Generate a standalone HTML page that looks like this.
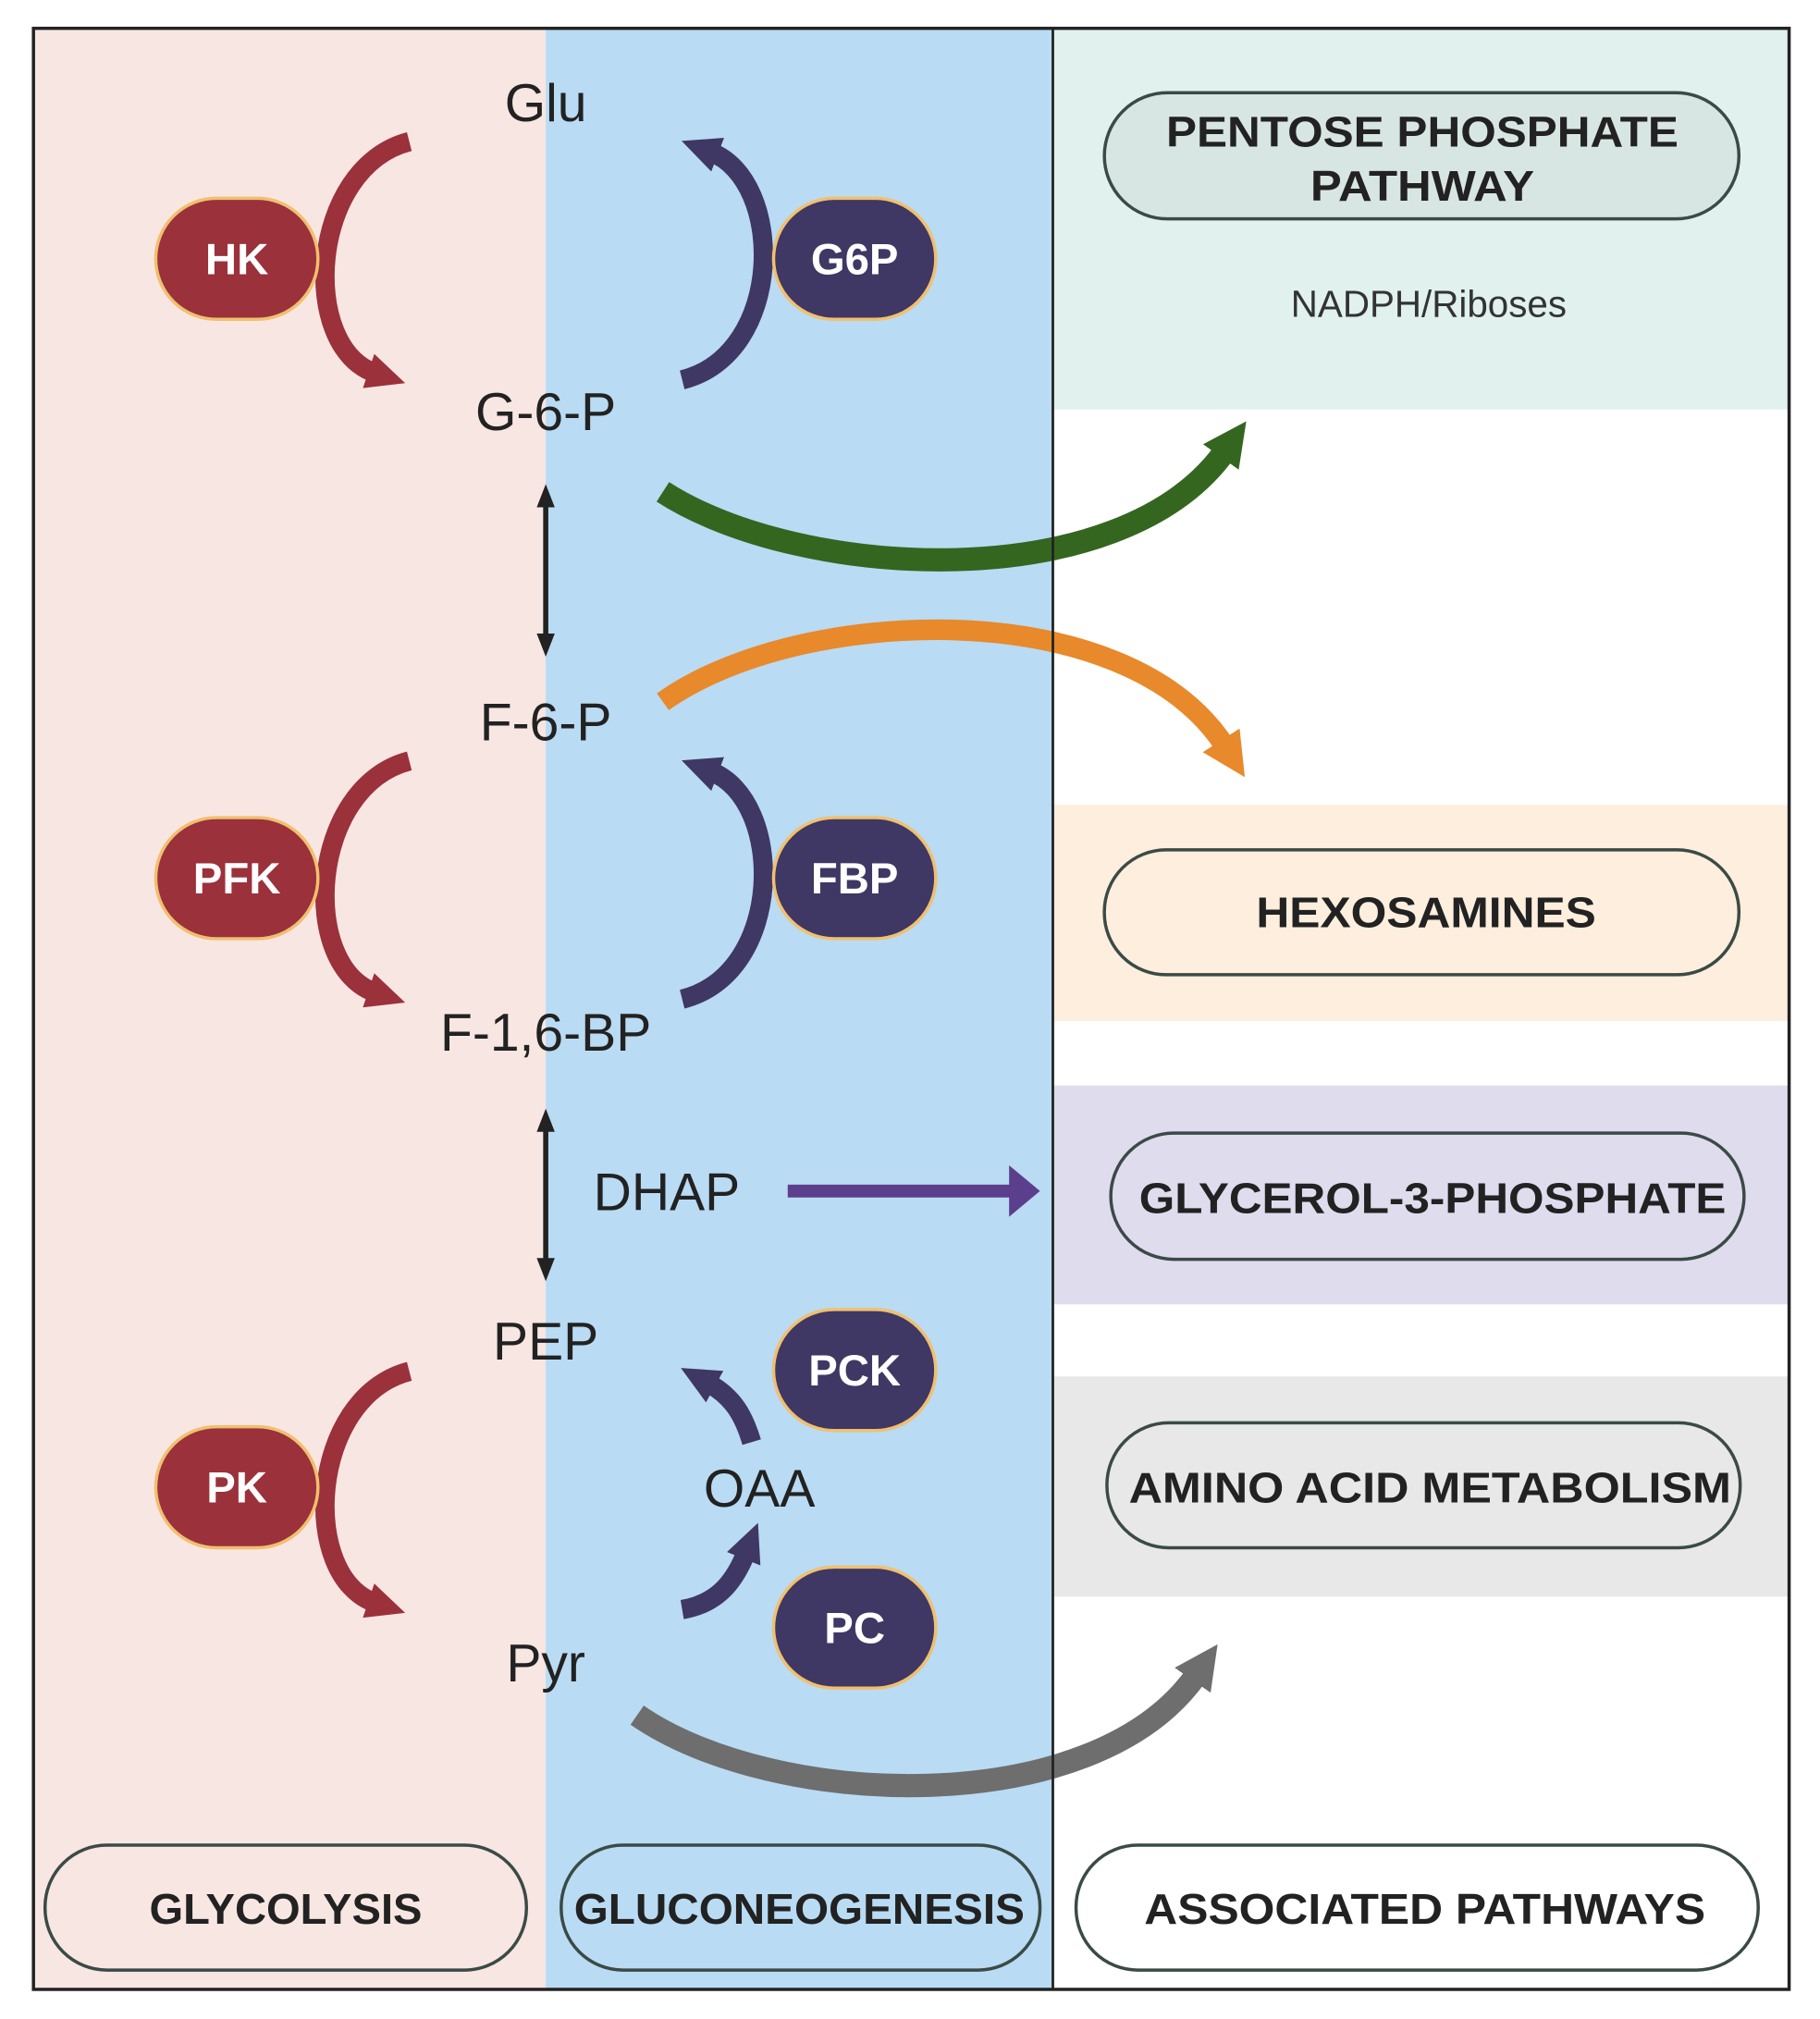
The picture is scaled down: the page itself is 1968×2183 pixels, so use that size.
<!DOCTYPE html>
<html><head><meta charset="utf-8"><style>
html,body{margin:0;padding:0;background:#fff}
svg{display:block}
text{font-family:"Liberation Sans",sans-serif}
</style></head><body>
<svg width="1968" height="2183" viewBox="0 0 1414 1568" preserveAspectRatio="none" xmlns="http://www.w3.org/2000/svg">
<defs>
<marker id="mr" markerUnits="userSpaceOnUse" markerWidth="34" markerHeight="34" refX="6" refY="17" orient="auto"><path d="M0,3 L30,17 L0,31 Z" fill="#9b313a"/></marker>
<marker id="mn" markerUnits="userSpaceOnUse" markerWidth="34" markerHeight="34" refX="6" refY="17" orient="auto"><path d="M0,3 L30,17 L0,31 Z" fill="#3f3764"/></marker>
<marker id="mg" markerUnits="userSpaceOnUse" markerWidth="40" markerHeight="40" refX="6" refY="20" orient="auto"><path d="M0,3 L34,20 L0,37 Z" fill="#346620"/></marker>
<marker id="mo" markerUnits="userSpaceOnUse" markerWidth="40" markerHeight="40" refX="6" refY="20" orient="auto"><path d="M0,3 L34,20 L0,37 Z" fill="#e8892b"/></marker>
<marker id="mgr" markerUnits="userSpaceOnUse" markerWidth="40" markerHeight="40" refX="6" refY="20" orient="auto"><path d="M0,3 L34,20 L0,37 Z" fill="#6e6e6e"/></marker>
<marker id="mp" markerUnits="userSpaceOnUse" markerWidth="30" markerHeight="44" refX="4" refY="22" orient="auto"><path d="M0,2 L24,22 L0,42 Z" fill="#5b3f8c"/></marker>
<marker id="mk" markerUnits="userSpaceOnUse" markerWidth="20" markerHeight="20" refX="2" refY="10" orient="auto-start-reverse"><path d="M0,3 L18,10 L0,17 Z" fill="#222"/></marker>
</defs>
<rect x="26" y="22" width="398" height="1523" fill="#f7e6e2"/>
<rect x="424" y="22" width="394" height="1523" fill="#b9dbf3"/>
<rect x="818" y="22" width="572" height="1523" fill="#fff"/>
<rect x="818" y="22" width="572" height="296" fill="#e0f1ee"/>
<rect x="818" y="625" width="572" height="168" fill="#fdeedd"/>
<rect x="818" y="843" width="572" height="170" fill="#dfdcee"/>
<rect x="818" y="1069" width="572" height="171" fill="#e8e8e8"/>

<path d="M515,382 C620,450 870,465 952,350" fill="none" stroke="#346620" stroke-width="18" marker-end="url(#mg)"/>
<path d="M515,545 C620,470 875,460 952,580" fill="none" stroke="#e8892b" stroke-width="16" marker-end="url(#mo)"/>
<path d="M495,1332 C600,1405 850,1415 930,1300" fill="none" stroke="#6e6e6e" stroke-width="18" marker-end="url(#mgr)"/>
<line x1="612" y1="925" x2="788" y2="925" stroke="#5b3f8c" stroke-width="10" marker-end="url(#mp)"/>

<line x1="818" y1="22" x2="818" y2="1545" stroke="#222" stroke-width="2"/>
<rect x="26" y="22" width="1364" height="1523" fill="none" stroke="#222" stroke-width="2.5"/>

<line x1="424" y1="392" x2="424" y2="494" stroke="#222" stroke-width="4" marker-end="url(#mk)" marker-start="url(#mk)"/>
<line x1="424" y1="877" x2="424" y2="979" stroke="#222" stroke-width="4" marker-end="url(#mk)" marker-start="url(#mk)"/>

<g fill="none" stroke="#9b313a" stroke-width="15">
<path d="M318,110 C240,130 232,270 292,290" marker-end="url(#mr)"/>
<path d="M318,591 C240,611 232,751 292,771" marker-end="url(#mr)"/>
<path d="M318,1065 C240,1085 232,1225 292,1245" marker-end="url(#mr)"/>
</g>
<g fill="none" stroke="#3f3764" stroke-width="15">
<path d="M530,295 C610,275 610,140 552,118" marker-end="url(#mn)"/>
<path d="M530,776 C610,756 610,621 552,599" marker-end="url(#mn)"/>
<path d="M584,1120 C578,1100 570,1085 550,1074" marker-end="url(#mn)"/>
<path d="M530,1250 C560,1245 572,1225 580,1205" marker-end="url(#mn)"/>
</g>

<g stroke="#f0c070" stroke-width="2.5">
<rect x="121" y="154" width="126" height="94" rx="47" fill="#9b313a"/>
<rect x="121" y="635" width="126" height="94" rx="47" fill="#9b313a"/>
<rect x="121" y="1108" width="126" height="94" rx="47" fill="#9b313a"/>
<rect x="601" y="154" width="126" height="94" rx="47" fill="#3f3764"/>
<rect x="601" y="635" width="126" height="94" rx="47" fill="#3f3764"/>
<rect x="601" y="1017" width="126" height="94" rx="47" fill="#3f3764"/>
<rect x="601" y="1217" width="126" height="94" rx="47" fill="#3f3764"/>
</g>
<g fill="#fff" font-weight="bold" font-size="34" text-anchor="middle">
<text x="184" y="213">HK</text>
<text x="184" y="694">PFK</text>
<text x="184" y="1167">PK</text>
<text x="664" y="213">G6P</text>
<text x="664" y="694">FBP</text>
<text x="664" y="1076">PCK</text>
<text x="664" y="1276">PC</text>
</g>

<g fill="#222" font-size="41" text-anchor="middle">
<text x="424" y="94">Glu</text>
<text x="424" y="334">G-6-P</text>
<text x="424" y="575">F-6-P</text>
<text x="424" y="816">F-1,6-BP</text>
<text x="518" y="940">DHAP</text>
<text x="424" y="1056">PEP</text>
<text x="590" y="1170">OAA</text>
<text x="424" y="1306">Pyr</text>
</g>
<text x="1110" y="246" font-size="29" fill="#333" text-anchor="middle">NADPH/Riboses</text>

<g stroke="#3b4a46" stroke-width="2.5">
<rect x="858" y="72" width="493" height="98" rx="49" fill="#d8e6e3"/>
<rect x="858" y="660" width="493" height="97" rx="48" fill="#fdeedd"/>
<rect x="863" y="880" width="492" height="98" rx="49" fill="#dfdcee"/>
<rect x="860" y="1105" width="492" height="97" rx="48" fill="#e8e8e8"/>
<rect x="35" y="1433" width="374" height="97" rx="48" fill="#f7e6e2"/>
<rect x="436" y="1433" width="372" height="97" rx="48" fill="#b9dbf3"/>
<rect x="836" y="1433" width="530" height="97" rx="48" fill="#fff"/>
</g>
<g fill="#222" font-weight="bold" font-size="33" text-anchor="middle">
<text x="1105" y="114" textLength="398" lengthAdjust="spacingAndGlyphs">PENTOSE PHOSPHATE</text>
<text x="1105" y="156" textLength="174" lengthAdjust="spacingAndGlyphs">PATHWAY</text>
<text x="1108" y="720" textLength="264" lengthAdjust="spacingAndGlyphs">HEXOSAMINES</text>
<text x="1113" y="942" textLength="456" lengthAdjust="spacingAndGlyphs">GLYCEROL-3-PHOSPHATE</text>
<text x="1111" y="1167" textLength="468" lengthAdjust="spacingAndGlyphs">AMINO ACID METABOLISM</text>
<text x="222" y="1494" textLength="212" lengthAdjust="spacingAndGlyphs">GLYCOLYSIS</text>
<text x="621" y="1494" textLength="350" lengthAdjust="spacingAndGlyphs">GLUCONEOGENESIS</text>
<text x="1107" y="1494" textLength="436" lengthAdjust="spacingAndGlyphs">ASSOCIATED PATHWAYS</text>
</g>
</svg>
</body></html>
